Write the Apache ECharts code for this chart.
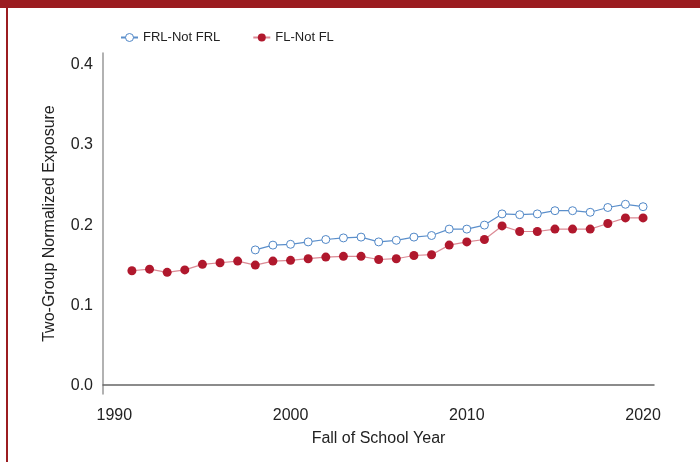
<!DOCTYPE html>
<html>
<head>
<meta charset="utf-8">
<script src="https://cdn.jsdelivr.net/npm/echarts@6/dist/echarts.min.js"></script>
<style>
    html, body { margin: 0; padding: 0; width: 700px; height: 462px; background: #fff; overflow: hidden; }
    #topbar { position: absolute; left: 0; top: 0; width: 700px; height: 8px; background: #9b1c20; }
    #leftbar { position: absolute; left: 6px; top: 0; width: 2px; height: 462px; background: #9b1c20; }
    #main { position: absolute; left: 0; top: 0; width: 700px; height: 462px; }
</style>
</head>
<body>
<div id="main"></div>
<div id="topbar"></div>
<div id="leftbar"></div>
<script>
    // years (fall of school year)
    var years = [1991, 1992, 1993, 1994, 1995, 1996, 1997, 1998, 1999, 2000,
                 2001, 2002, 2003, 2004, 2005, 2006, 2007, 2008, 2009, 2010,
                 2011, 2012, 2013, 2014, 2015, 2016, 2017, 2018, 2019, 2020];
    // FRL-Not FRL starts in 1998
    var frlYears = years.slice(7);
    var frlValues = [0.169, 0.175, 0.176, 0.179, 0.182, 0.184, 0.185, 0.179, 0.181, 0.185,
                     0.187, 0.195, 0.195, 0.200, 0.214, 0.213, 0.214, 0.218, 0.218, 0.216,
                     0.222, 0.226, 0.223];
    var flValues = [0.143, 0.145, 0.141, 0.144, 0.151, 0.153, 0.155, 0.150, 0.155, 0.156,
                    0.158, 0.160, 0.161, 0.161, 0.157, 0.158, 0.162, 0.163, 0.175, 0.179,
                    0.182, 0.199, 0.192, 0.192, 0.195, 0.195, 0.195, 0.202, 0.209, 0.209];
    var xTicks = [1990, 2000, 2010, 2020];
    var yTicks = [0, 0.1, 0.2, 0.3, 0.4];

    function pairs(xs, ys) {
        return xs.map(function (x, i) { return [x, ys[i]]; });
    }

    var chart = echarts.init(document.getElementById('main'));
    chart.setOption({
        animation: false,
        textStyle: { fontFamily: 'Liberation Sans, Arial, sans-serif', color: '#222' },
        legend: {
            left: 115,
            top: 26,
            itemWidth: 17,
            itemHeight: 10,
            itemGap: 32,
            textStyle: { fontSize: 13, color: '#222' },
            data: [
                { name: 'FRL-Not FRL', itemStyle: { borderWidth: 1 } },
                { name: 'FL-Not FL' }
            ]
        },
        grid: { left: 103, right: 46, top: 53, bottom: 68 },
        xAxis: {
            type: 'value',
            min: 1989.36,
            max: 2020.62,
            name: 'Fall of School Year',
            nameLocation: 'middle',
            nameGap: 37,
            nameTextStyle: { fontSize: 16, color: '#222' },
            axisLine: { show: true, lineStyle: { color: '#666', width: 1.5 } },
            axisTick: { show: false },
            splitLine: { show: false },
            axisLabel: {
                customValues: xTicks,
                fontSize: 16,
                color: '#222',
                margin: 14,
                formatter: function (v) { return String(v); }
            }
        },
        yAxis: {
            type: 'value',
            min: -0.011,
            max: 0.415,
            name: 'Two-Group Normalized Exposure',
            nameLocation: 'middle',
            nameGap: 45,
            nameTextStyle: { fontSize: 16, color: '#222' },
            axisLine: { show: true, lineStyle: { color: '#999', width: 1.5 } },
            axisTick: { show: false },
            splitLine: { show: false },
            axisLabel: {
                customValues: yTicks,
                fontSize: 16,
                color: '#222',
                margin: 10,
                formatter: function (v) { return v.toFixed(1); }
            }
        },
        series: [{
            name: 'FRL-Not FRL',
            type: 'line',
            data: pairs(frlYears, frlValues),
            symbol: 'circle',
            symbolSize: 8,
            itemStyle: { color: '#fff', borderColor: '#4f86c6', borderWidth: 1 },
            lineStyle: { color: '#5b8fcb', width: 1.2 },
            emphasis: { disabled: true }
        }, {
            name: 'FL-Not FL',
            type: 'line',
            data: pairs(years, flValues),
            symbol: 'circle',
            symbolSize: 9,
            itemStyle: { color: '#b0182d', borderWidth: 0 },
            lineStyle: { color: 'rgba(190,40,60,0.55)', width: 1.2 },
            emphasis: { disabled: true }
        }]
    });
</script>
</body>
</html>
